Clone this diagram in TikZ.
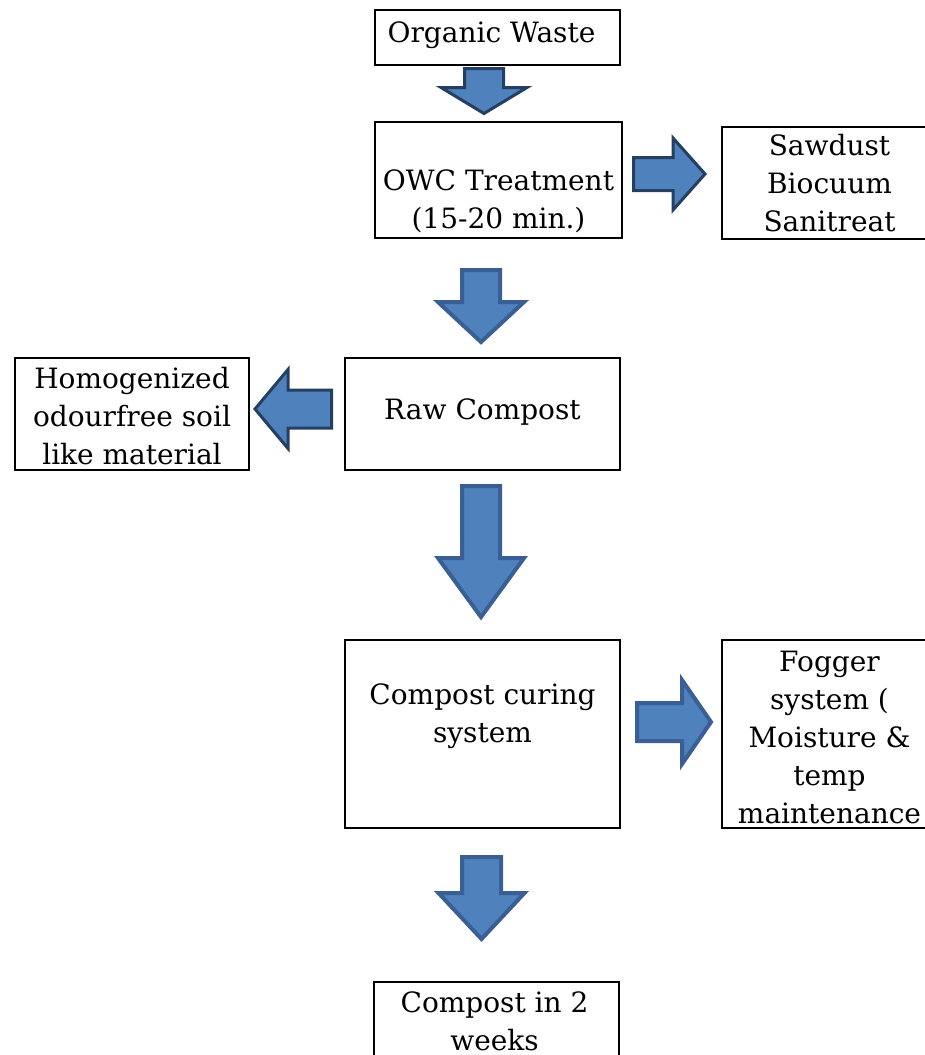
\documentclass[tikz,border=0pt]{standalone}
\usepackage{fontspec}
\setmainfont{DejaVu Serif}
\usetikzlibrary{calc}

\definecolor{arrowfill}{HTML}{4F81BD}
\definecolor{darkedge}{HTML}{243F60}
\definecolor{midedge}{HTML}{3A5F95}

\begin{document}
\begin{tikzpicture}[
        x=1pt, y=-1pt,
        box/.style={draw=black, line width=2pt, inner sep=0pt, anchor=north west},
        txt/.style={font=\fontsize{28}{38}\selectfont, align=center, inner sep=0pt},
        blockarrow/.style={fill=arrowfill, line join=miter},
        darkarrow/.style={draw=darkedge, line width=3pt},
        midarrow/.style={draw=midedge, line width=4pt},
        % shaft length, head length, shaft half width, head half width
        pics/barrow/.style n args={4}{code={
            \draw[blockarrow, pic actions] (0,-#3)--(#1,-#3)--(#1,-#4)--({#1+#2},0)--(#1,#4)--(#1,#3)--(0,#3)--cycle;
        }}
    ]

    \path[use as bounding box, fill=white] (0,0) rectangle (924,1055);

    %boxes
    \node[box, minimum width=245, minimum height=55]  (waste)    at (374,9)   {};
    \node[box, minimum width=247, minimum height=116] (owc)      at (374,121) {};
    \node[box, minimum width=215, minimum height=112] (additive) at (721,126) {};
    \node[box, minimum width=275, minimum height=112] (raw)      at (344,357) {};
    \node[box, minimum width=234, minimum height=112] (soil)     at (14,357)  {};
    \node[box, minimum width=275, minimum height=188] (curing)   at (344,639) {};
    \node[box, minimum width=215, minimum height=188] (fogger)   at (721,639) {};
    \node[box, minimum width=245, minimum height=90]  (final)    at (373,981) {};

    %texts
    \node[txt] (waste-t)    at ($(waste.center)+(-6,-2)$)   {Organic Waste};
    \node[txt] (owc-t)      at ($(owc.center)+(0,21)$)      {OWC Treatment\\(15-20 min.)};
    \node[txt] (additive-t) at ($(additive.center)+(0,0)$)  {Sawdust\\Biocuum\\Sanitreat};
    \node[txt] (raw-t)      at ($(raw.center)+(0,-2)$)      {Raw Compost};
    \node[txt] (soil-t)     at ($(soil.center)+(0,2)$)      {Homogenized\\odourfree soil\\like material};
    \node[txt] (curing-t)   at ($(curing.center)+(0,-18)$)  {Compost curing\\system};
    \node[txt] (fogger-t)   at ($(fogger.center)+(0,3)$)    {Fogger\\system (\\Moisture \&\\temp\\maintenance};
    \node[txt] (final-t)    at ($(final.north)+(-2,40)$)    {Compost in 2\\weeks};

    %arrows
    \pic[darkarrow, rotate=-90] at (484,68.5) {barrow={19}{26}{19.5}{43}};
    \pic[darkarrow] at (633.5,174) {barrow={39.5}{32}{16.5}{36}};
    \pic[midarrow, rotate=-90] at (481,270) {barrow={32}{40}{19}{43}};
    \pic[darkarrow, rotate=180] at (331.5,409) {barrow={43.5}{33}{19}{39.5}};
    \pic[midarrow, rotate=-90] at (481,486) {barrow={72}{59}{19}{43}};
    \pic[midarrow] at (637,722) {barrow={45}{29}{19}{42}};
    \pic[midarrow, rotate=-90] at (481.5,857) {barrow={36}{46}{19.5}{43}};

\end{tikzpicture}
\end{document}
